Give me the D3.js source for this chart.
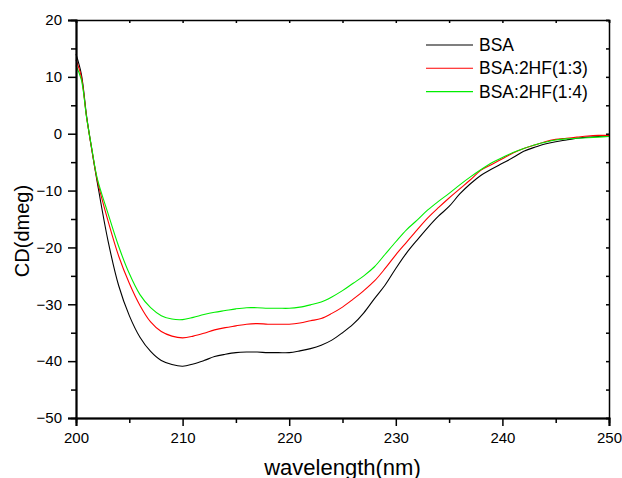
<!DOCTYPE html>
<html>
<head>
<meta charset="utf-8">
<script src="https://cdn.jsdelivr.net/npm/d3@7"></script>
<style>
  body { margin: 0; background: #fff; }
  text { font-family: "Liberation Sans", Arial, sans-serif; fill: #000; }
</style>
</head>
<body>
<div class="chart"></div>
<script>
// wavelength samples (nm)
var wavelengths = [200, 200.5, 201, 201.5, 202, 203, 204, 205, 206, 207, 208, 209, 210,
  211, 212, 213, 214, 215, 216, 217, 218, 219, 220, 221, 222, 223, 224, 225,
  226, 227, 228, 229, 230, 231, 232, 233, 234, 235, 236, 237, 238, 239, 240,
  241, 242, 243, 244, 245, 246, 247, 248, 249, 250];

var bsa = [14, 10.5, 3, -3, -8.6, -18.8, -26.7, -32, -35.8, -38.3, -39.9, -40.6, -40.9,
  -40.5, -39.9, -39.2, -38.8, -38.5, -38.4, -38.4, -38.5, -38.5, -38.5, -38.2, -37.8, -37.2, -36.3, -35,
  -33.5, -31.5, -29, -26.6, -23.7, -21, -18.7, -16.5, -14.5, -12.8, -10.6, -8.8, -7.3, -6.2, -5.2,
  -4.2, -3.1, -2.4, -1.8, -1.4, -1.1, -0.8, -0.6, -0.5, -0.4];

var bsa13 = [13, 10, 2.8, -3, -8.2, -15.3, -21.5, -26.3, -30.2, -33.1, -34.8, -35.6, -35.9,
  -35.6, -35.1, -34.5, -34.1, -33.8, -33.5, -33.4, -33.5, -33.5, -33.5, -33.3, -32.9, -32.5, -31.6, -30.5,
  -29.1, -27.6, -25.9, -23.7, -21.3, -19.1, -16.9, -14.8, -13, -11.3, -9.7, -8.1, -6.4, -5.4, -4.4,
  -3.4, -2.6, -2, -1.4, -1.0, -0.8, -0.6, -0.4, -0.3, -0.3];

var bsa14 = [12, 9.5, 2.8, -2.8, -7.9, -14, -19.8, -24.6, -28.3, -30.6, -32, -32.6, -32.7,
  -32.3, -31.8, -31.4, -31.1, -30.8, -30.6, -30.6, -30.7, -30.7, -30.7, -30.5, -30.1, -29.6, -28.7, -27.6,
  -26.3, -25, -23.4, -21.2, -19, -16.9, -15.2, -13.4, -11.9, -10.5, -9, -7.6, -6.3, -5.1, -4.2,
  -3.3, -2.6, -2, -1.5, -1.1, -0.9, -0.8, -0.7, -0.6, -0.5];

var seriesNames = ['BSA', 'BSA:2HF(1:3)', 'BSA:2HF(1:4)'];
var seriesColors = ['#000000', '#ff0000', '#00ee00'];
var xTicks = [200, 210, 220, 230, 240, 250];
var yTicks = [20, 10, 0, -10, -20, -30, -40, -50];

var width = 622,
    height = 478,
    plotLeft = 76,
    plotRight = 609,
    plotTop = 20,
    plotBottom = 418;

var svg = d3.select('.chart')
  .append('svg')
    .attr('width', width)
    .attr('height', height);

var x = d3.scaleLinear().domain([200, 250]).range([plotLeft, plotRight]);
var y = d3.scaleLinear().domain([-50, 20]).range([plotBottom, plotTop]);

var minorX = d3.range(205, 250, 10);
var minorY = d3.range(-45, 20, 10);

// curves
var line = d3.line()
    .x(function(d) { return x(d[0]); })
    .y(function(d) { return y(d[1]); })
    .curve(d3.curveCatmullRom);

[bsa, bsa13, bsa14].forEach(function(vals, i) {
  svg.append('path')
      .datum(wavelengths.map(function(w, j) { return [w, vals[j]]; }))
      .attr('fill', 'none')
      .attr('stroke', seriesColors[i])
      .attr('stroke-width', 1.1)
      .attr('d', line);
});

// bottom axis
var xAxis = svg.append('g')
    .attr('transform', 'translate(0,' + plotBottom + ')')
    .call(d3.axisBottom(x).tickValues(xTicks).tickSize(8).tickPadding(6));
svg.append('g')
    .attr('transform', 'translate(0,' + plotBottom + ')')
    .call(d3.axisBottom(x).tickValues(minorX).tickSize(5).tickFormat(''));

// left axis
var yAxis = svg.append('g')
    .attr('transform', 'translate(' + plotLeft + ',0)')
    .call(d3.axisLeft(y).tickValues(yTicks).tickSize(8).tickPadding(6));
svg.append('g')
    .attr('transform', 'translate(' + plotLeft + ',0)')
    .call(d3.axisLeft(y).tickValues(minorY).tickSize(5).tickFormat(''));

// top and right axes, ticks inward
svg.append('g')
    .attr('transform', 'translate(0,' + plotTop + ')')
    .call(d3.axisTop(x).tickValues(xTicks.concat(minorX)).tickSize(-3).tickFormat(''));
svg.append('g')
    .attr('transform', 'translate(' + plotRight + ',0)')
    .call(d3.axisRight(y).tickValues(yTicks.concat(minorY)).tickSize(-3).tickFormat(''));

svg.selectAll('.domain').attr('stroke', '#000').attr('stroke-width', 1.5);
svg.selectAll('.tick line').attr('stroke', '#000').attr('stroke-width', 1.5);
svg.selectAll('.tick text')
    .style('font-family', '"Liberation Sans", Arial, sans-serif')
    .style('font-size', '15px')
    .attr('fill', '#000');
xAxis.select('.domain').attr('stroke-width', 2);
yAxis.select('.domain').attr('stroke-width', 2);

// axis titles
svg.append('text')
    .attr('x', (plotLeft + plotRight) / 2)
    .attr('y', 475)
    .attr('text-anchor', 'middle')
    .style('font-size', '22px')
    .text('wavelength(nm)');

svg.append('text')
    .attr('transform', 'translate(29,' + ((plotTop + plotBottom) / 2 + 12) + ') rotate(-90)')
    .attr('text-anchor', 'middle')
    .style('font-size', '20px')
    .text('CD(dmeg)');

// legend
var legend = svg.append('g');
seriesNames.forEach(function(name, i) {
  var ly = 45 + i * 23.3;
  legend.append('line')
      .attr('x1', 426).attr('x2', 473)
      .attr('y1', ly).attr('y2', ly)
      .attr('stroke', seriesColors[i])
      .attr('stroke-width', 1.1);
  legend.append('text')
      .attr('x', 479)
      .attr('y', ly + 6)
      .style('font-size', '17.5px')
      .text(name);
});
</script>
</body>
</html>
